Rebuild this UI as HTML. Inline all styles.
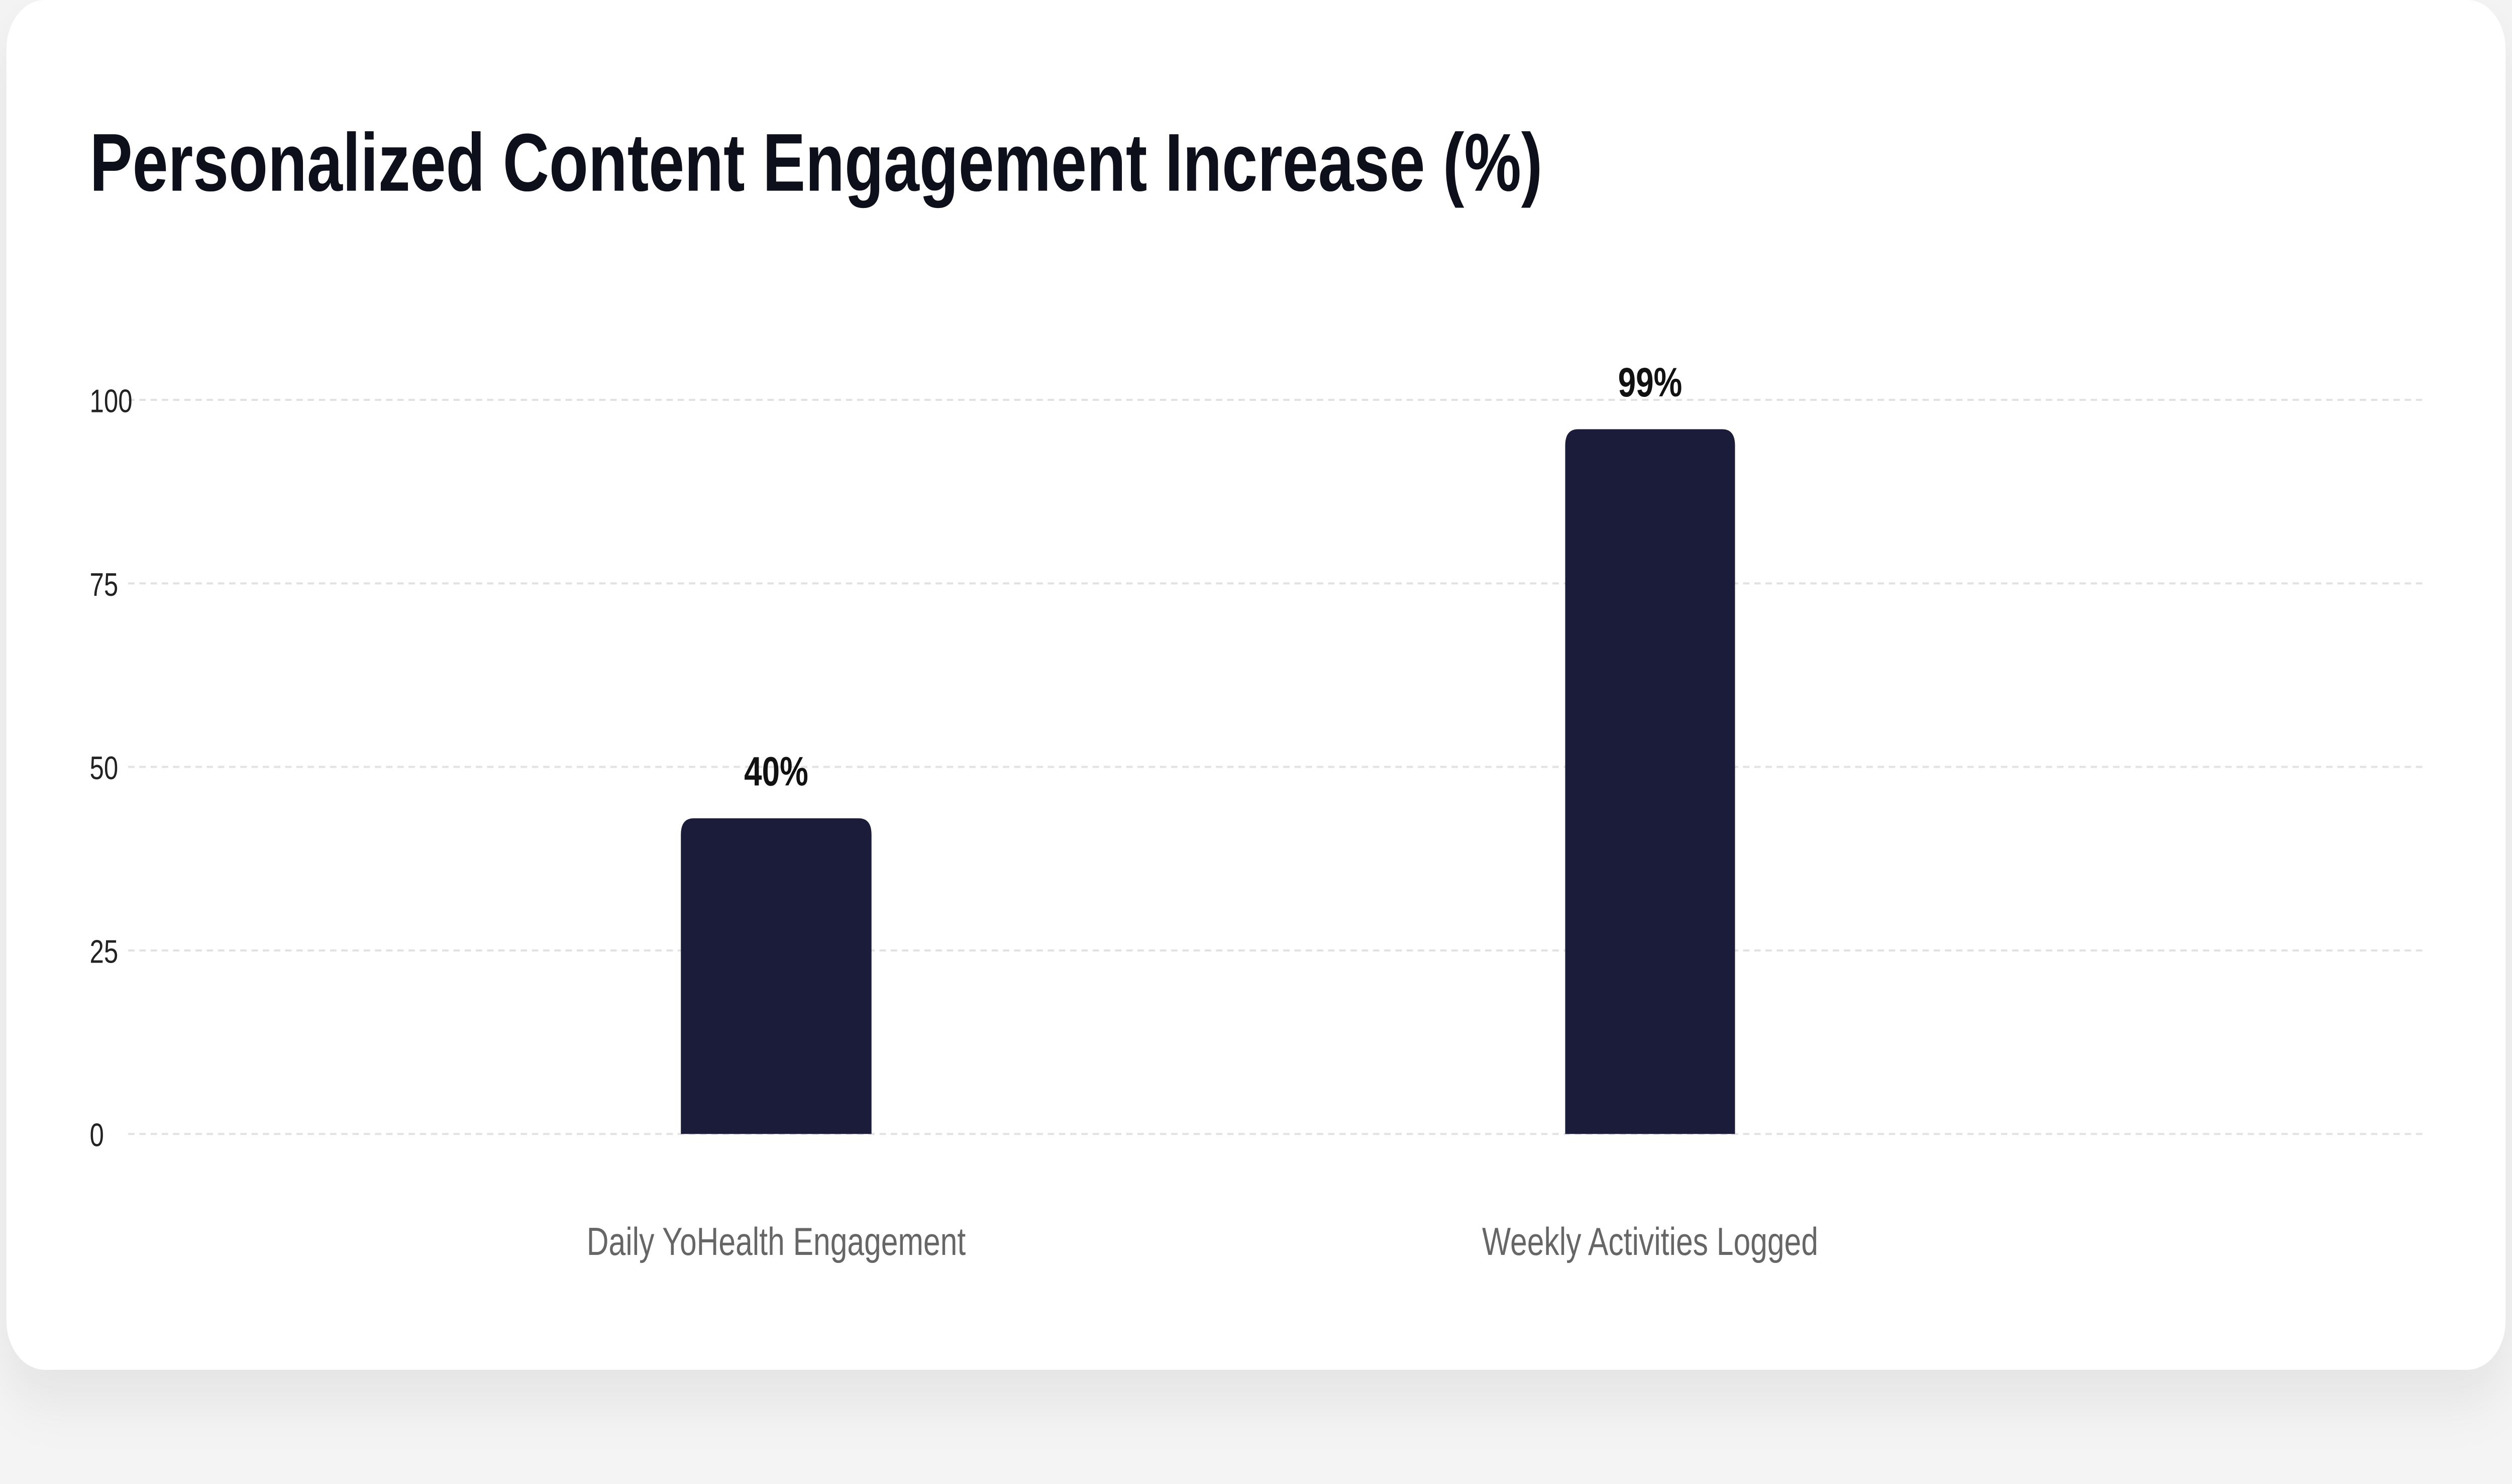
<!DOCTYPE html>
<html><head><meta charset="utf-8"><style>
html,body{margin:0;padding:0;background:#f4f4f4;overflow:hidden;width:100%;height:100%;}
svg{display:block;width:100vw;height:100vh;}
text{font-family:"Liberation Sans",sans-serif;}
</style></head><body>
<svg viewBox="0 0 1568 723.7" preserveAspectRatio="none" xmlns="http://www.w3.org/2000/svg">
<defs><filter id="sh" x="-10%" y="-10%" width="120%" height="130%"><feDropShadow dx="0" dy="14" stdDeviation="14" flood-color="#000" flood-opacity="0.07"/></filter></defs>
<rect width="1568" height="723.7" fill="#f4f4f4"/>
<rect x="4" y="0" width="1560" height="668" rx="24" fill="#fff" filter="url(#sh)"/>
<text x="56" y="93" font-size="40" font-weight="bold" fill="#0d0f1a">Personalized Content Engagement Increase (%)</text>
<g id="grid"></g><g id="bars"></g>
</svg>
<script>
const categories=["Daily YoHealth Engagement","Weekly Activities Logged"];
const values=[43,96];
const valueLabels=["40%","99%"];
const ticks=[0,25,50,75,100];
const NS="http://www.w3.org/2000/svg";
const y0=553,y100=195;
const y=v=>y0-(y0-y100)*v/100;
const centers=[484.5,1030];
const widths=[119,106];
const g=document.getElementById('grid'),b=document.getElementById('bars');
function mk(t,a,p){const e=document.createElementNS(NS,t);for(const k in a)e.setAttribute(k,a[k]);p.appendChild(e);return e;}
ticks.forEach(t=>{
 const l=mk('line',{x1:80,x2:1512,y1:y(t),y2:y(t),stroke:'#e2e2e2','stroke-dasharray':'4 3','stroke-width':1},g);
 
 
 const tx=mk('text',{x:56,y:y(t)+6,'font-size':16,fill:'#222'},g);tx.textContent=t;
 
 
});
values.forEach((v,i)=>{
 const cx=centers[i],w=widths[i],top=y(v),r=8,x0=cx-w/2,x1=cx+w/2;
 const p=mk('path',{d:`M${x0},${y0}V${top+r}Q${x0},${top} ${x0+r},${top}H${x1-r}Q${x1},${top} ${x1},${top+r}V${y0}Z`,fill:'#1b1c3a'},b);
 
 
 const vl=mk('text',{x:cx,y:top-16,'font-size':20,'font-weight':'bold','text-anchor':'middle',fill:'#111'},b);vl.textContent=valueLabels[i];
 
 
 const cl=mk('text',{x:cx,y:612,'font-size':19,'text-anchor':'middle',fill:'#666'},b);cl.textContent=categories[i];
 
 
});
</script>
</body></html>
